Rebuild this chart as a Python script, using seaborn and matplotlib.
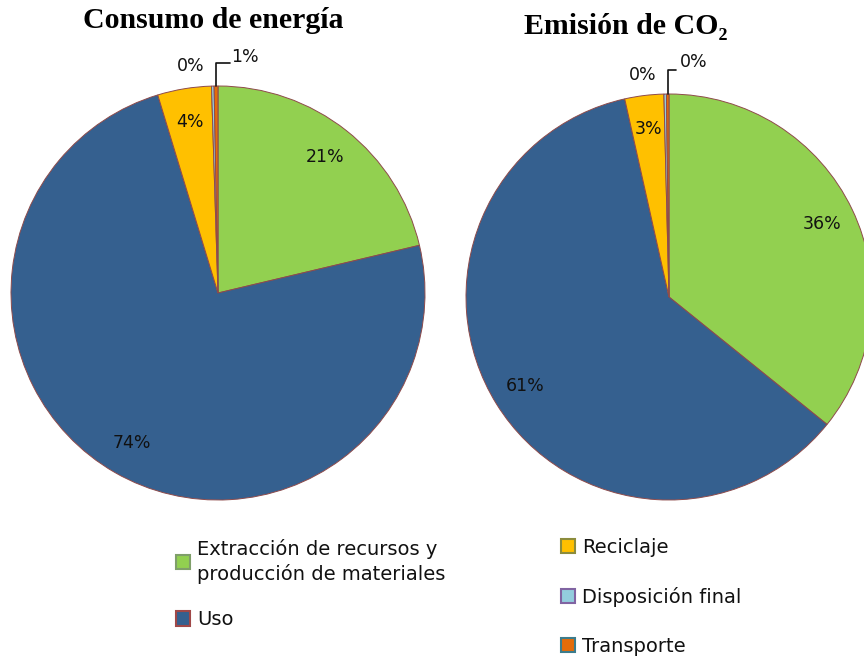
import matplotlib
matplotlib.use("Agg")
import numpy as np
import seaborn as sns
import matplotlib.pyplot as plt
from matplotlib.patches import Patch

sns.set_theme(style="white")
plt.rcParams['font.family'] = ['DejaVu Sans']

# data
etapas = ["Extracción de recursos y\nproducción de materiales", "Uso", "Reciclaje",
          "Disposición final", "Transporte"]
energia = [21.3, 74.0, 4.2, 0.2, 0.3]
energia_txt = ["21%", "74%", "4%", "0%", "1%"]
co2 = [35.8, 60.7, 3.1, 0.2, 0.2]
co2_txt = ["36%", "61%", "3%", "0%", "0%"]

colores = ["#92D050", "#35608F", "#FFC000", "#93CDDD", "#E46C0A"]
bordes = ["#7F9F6A", "#A04848", "#8C8C3C", "#8064A2", "#3C7C8C"]

W, H = 864, 662
SPAN = 1.1
fig = plt.figure(figsize=(W / 100, H / 100), dpi=100)


def pie_axes(cx, cy, r):
    s = r * SPAN * 2
    ax = fig.add_axes([(cx - s / 2) / W, (H - cy - s / 2) / H, s / W, s / H])
    return ax


def dibujar(ax, vals, txts, titulo, tpos, lbl0, lbl1, codo):
    wedges, texts = ax.pie(vals, colors=colores, startangle=90, counterclock=False,
                           labels=txts, labeldistance=0.835,
                           wedgeprops=dict(edgecolor="#8E4B4B", linewidth=0.7),
                           textprops=dict(fontsize=12.5, color="#111111"))
    ax.set_xlim(-SPAN, SPAN)
    ax.set_ylim(-SPAN, SPAN)
    ax.set_aspect("equal")
    ax.axis("off")
    for t in texts:
        t.set_ha("center")
        t.set_va("center")
    texts[3].set_position(lbl0)
    texts[4].set_visible(False)
    w = wedges[4]
    ang = np.deg2rad((w.theta1 + w.theta2) / 2)
    x0, y0 = np.cos(ang), np.sin(ang)
    ax.plot([x0, x0, codo[0]], [y0, codo[1], codo[1]], color="#111111", lw=1.2,
            clip_on=False)
    ax.text(lbl1[0], lbl1[1], txts[4], ha="center", va="center", fontsize=12.5,
            color="#111111")
    fig.text(tpos[0] / W, 1 - tpos[1] / H, titulo, ha="center", va="center",
             fontsize=21.5, fontweight="bold", color="black",
             family=["Liberation Serif", "DejaVu Serif"])


ax1 = pie_axes(218, 293, 207)
dibujar(ax1, energia, energia_txt, "Consumo de energía", (213, 21),
        (-0.13, 1.095), (0.13, 1.14), (0.058, 1.11))

ax2 = pie_axes(669, 297, 203)
dibujar(ax2, co2, co2_txt, "Emisión de CO₂", (626, 26),
        (-0.13, 1.095), (0.12, 1.16), (0.035, 1.12))

handles = [Patch(facecolor=c, edgecolor=b, linewidth=1.5) for c, b in zip(colores, bordes)]

leg1 = fig.legend(handles[:2], etapas[:2], loc="upper left",
                  bbox_to_anchor=(166 / W, 1 - 529 / H), frameon=False,
                  fontsize=14, handlelength=0.75, handleheight=0.75,
                  handletextpad=0.35, labelspacing=1.38, borderpad=0,
                  labelcolor="#111111")
leg1.get_texts()[0].set_linespacing(1.3)
fig.legend(handles[2:], etapas[2:], loc="upper left",
           bbox_to_anchor=(551 / W, 1 - 528 / H), frameon=False,
           fontsize=14, handlelength=0.75, handleheight=0.75,
           handletextpad=0.35, labelspacing=1.55, borderpad=0,
           labelcolor="#111111")

fig.savefig("out.png", dpi=100)
